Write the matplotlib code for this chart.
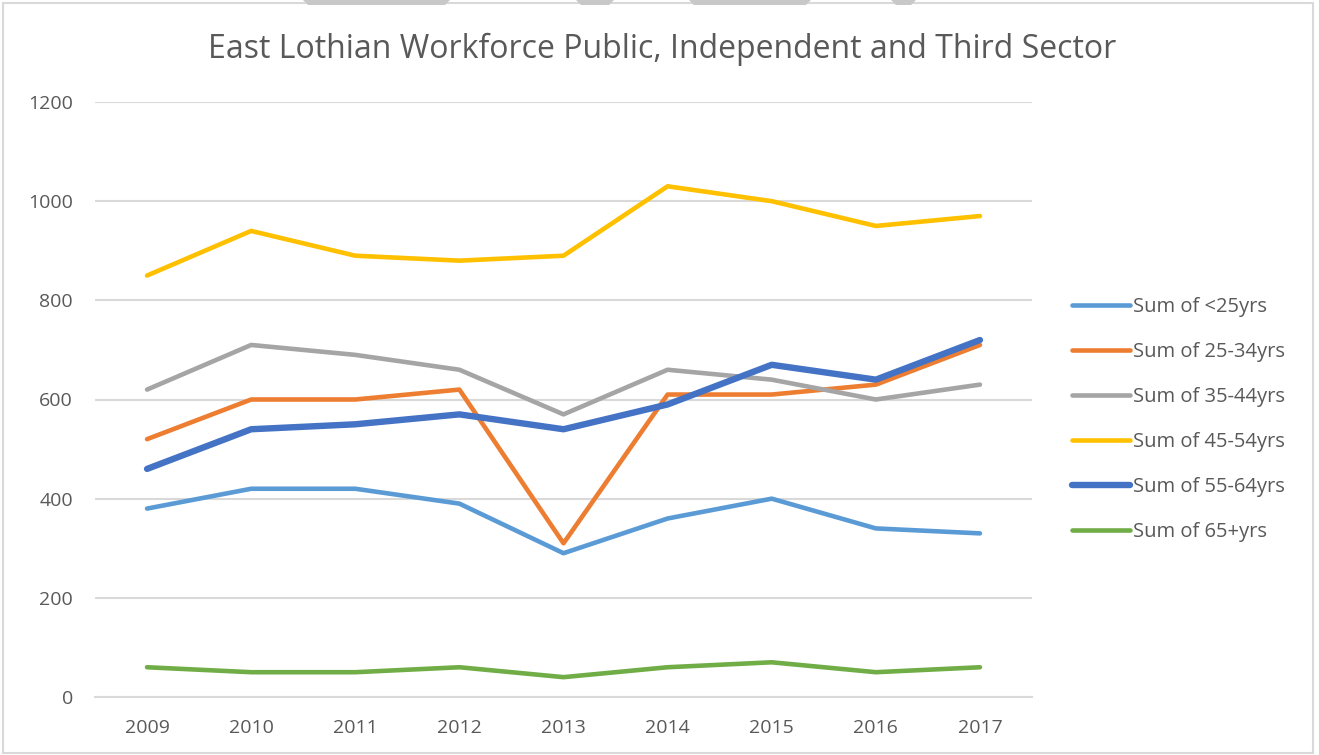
import matplotlib
matplotlib.use("Agg")
import matplotlib.pyplot as plt
from matplotlib.patches import Rectangle, Polygon

years = ["2009", "2010", "2011", "2012", "2013", "2014", "2015", "2016", "2017"]
under25 = [380, 420, 420, 390, 290, 360, 400, 340, 330]
age25_34 = [520, 600, 600, 620, 310, 610, 610, 630, 710]
age35_44 = [620, 710, 690, 660, 570, 660, 640, 600, 630]
age45_54 = [850, 940, 890, 880, 890, 1030, 1000, 950, 970]
age55_64 = [460, 540, 550, 570, 540, 590, 670, 640, 720]
age65plus = [60, 50, 50, 60, 40, 60, 70, 50, 60]

labels = ["Sum of <25yrs", "Sum of 25-34yrs", "Sum of 35-44yrs",
          "Sum of 45-54yrs", "Sum of 55-64yrs", "Sum of 65+yrs"]
series = [under25, age25_34, age35_44, age45_54, age55_64, age65plus]
colors = ["#5B9BD5", "#ED7D31", "#A5A5A5", "#FFC000", "#4472C4", "#70AD47"]
widths = [3.3, 3.3, 3.3, 3.3, 4.6, 3.3]

plt.rcParams['font.family'] = ['Open Sans', 'DejaVu Sans']

fig = plt.figure(figsize=(13.19, 7.55), dpi=100)
ax = fig.add_axes([95/1319, 58/755, 937/1319, 595/755])

x = list(range(len(years)))
for vals, lab, c, w in zip(series, labels, colors, widths):
    ax.plot(x, vals, color=c, lw=w, label=lab, solid_capstyle='round', solid_joinstyle='round')

ax.set_xlim(-0.5, len(years) - 0.5)
ax.set_ylim(0, 1200)
ax.set_yticks(range(0, 1201, 200))
ax.set_xticks(x)
ax.set_xticklabels(years)
ax.grid(axis='y', color='#D9D9D9', lw=1.5)
ax.set_axisbelow(True)
for s in ['top', 'right', 'left']:
    ax.spines[s].set_visible(False)
ax.spines['bottom'].set_color('#D9D9D9')
ax.spines['bottom'].set_linewidth(1.5)
ax.tick_params(axis='both', length=0, labelsize=14, colors='#595959')
ax.tick_params(axis='x', pad=16)
ax.tick_params(axis='y', pad=16)

fig.text(662/1319, 1 - 49/755, "East Lothian Workforce Public, Independent and Third Sector",
         ha='center', va='center', fontsize=23, color='#595959')

leg = fig.legend(loc='upper left', bbox_to_anchor=(1064/1319, 1 - 289/755),
                 frameon=False, fontsize=14.5, handlelength=2.9, handletextpad=0.15,
                 labelspacing=1.24, borderaxespad=0)
for t in leg.get_texts():
    t.set_color('#595959')

# outer chart border
fig.patches.append(Rectangle((3/1319, 2/755), 1310/1319, 750/755, transform=fig.transFigure,
                             fill=False, edgecolor='#D9D9D9', lw=1.5))
# small grey tab shapes at top edge
for (a, b) in [(303, 450), (576, 614), (689, 811), (891, 916)]:
    fig.patches.append(Polygon([(a/1319, 1), (b/1319, 1), ((b-5)/1319, 1 - 5/755), ((a+5)/1319, 1 - 5/755)],
                               closed=True, transform=fig.transFigure, color='#C8C8C8', lw=0))

fig.savefig("out.png", dpi=100, facecolor='white')
